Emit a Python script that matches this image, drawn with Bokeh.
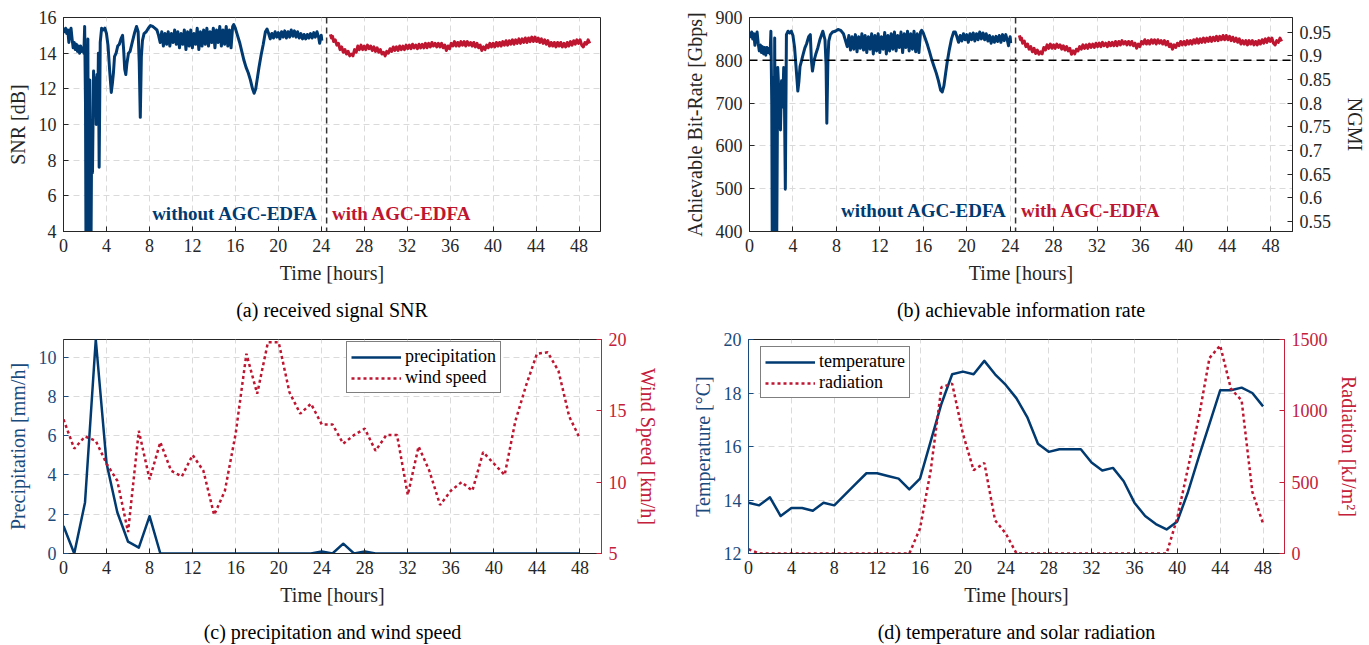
from bokeh.plotting import figure
from bokeh.models import (Range1d, LinearAxis, FixedTicker, Span, Label, Legend,
                          LegendItem)
from bokeh.layouts import column, row
from bokeh.embed import file_html
from bokeh.resources import INLINE

# ---------------- data ----------------
X_TICKS = [0, 4, 8, 12, 16, 20, 24, 28, 32, 36, 40, 44, 48]
SWITCH_HOUR = 24.5
THRESHOLD_RATE = 800

SNR_NOAGC = [
    (0.00, 15.40), (0.10, 15.20), (0.20, 15.40), (0.30, 15.10), (0.40, 15.30), (0.50, 14.60),
    (0.60, 15.20), (0.70, 15.40), (0.80, 14.80), (0.90, 14.30), (1.00, 14.60), (1.10, 14.20),
    (1.20, 14.50), (1.30, 14.10), (1.40, 14.40), (1.50, 14.00), (1.60, 14.40), (1.70, 14.10),
    (1.80, 14.30), (1.90, 14.00), (1.97, 15.50), (2.05, 11.00), (2.10, 2.00), (2.20, 2.00),
    (2.27, 14.80), (2.32, 2.00), (2.45, 12.50), (2.55, 2.00), (2.62, 9.00), (2.70, 7.30),
    (2.80, 13.00), (2.90, 10.50), (2.97, 12.60), (3.05, 10.00), (3.12, 12.80), (3.18, 10.30),
    (3.25, 14.00), (3.32, 7.60), (3.42, 14.60), (3.55, 15.40), (3.70, 15.30), (3.85, 15.40),
    (4.00, 15.10), (4.15, 14.40), (4.30, 13.00), (4.45, 11.80), (4.55, 12.30), (4.65, 12.90),
    (4.75, 13.80), (4.90, 14.00), (5.05, 14.40), (5.20, 14.50), (5.35, 14.80), (5.50, 15.00),
    (5.60, 14.20), (5.70, 13.10), (5.80, 12.80), (5.90, 13.40), (6.05, 14.00), (6.20, 14.10),
    (6.40, 14.60), (6.60, 15.10), (6.80, 15.50), (6.95, 15.20), (7.05, 13.50), (7.15, 10.40),
    (7.25, 13.80), (7.35, 14.70), (7.50, 15.10), (7.70, 15.20), (7.90, 15.40), (8.10, 15.55),
    (8.30, 15.50), (8.50, 15.40), (8.70, 15.30), (8.85, 15.00), (9.00, 14.60),
    (9.15, 15.20), (9.30, 14.40), (9.45, 15.10), (9.60, 14.50), (9.75, 15.20), (9.90, 14.40),
    (10.05, 15.10), (10.20, 14.60), (10.35, 15.30), (10.50, 14.50), (10.65, 15.20), (10.80, 14.30),
    (10.95, 15.10), (11.10, 14.50), (11.25, 15.30), (11.40, 14.20), (11.55, 15.20), (11.70, 14.40),
    (11.85, 15.30), (12.00, 14.30), (12.15, 15.10), (12.30, 14.50), (12.45, 15.40), (12.60, 14.20),
    (12.75, 15.20), (12.90, 14.40), (13.05, 15.30), (13.20, 14.50), (13.35, 15.40), (13.50, 14.40),
    (13.65, 15.20), (13.80, 14.60), (13.95, 15.40), (14.10, 14.30), (14.25, 15.30), (14.40, 14.60),
    (14.55, 15.50), (14.70, 14.40), (14.85, 15.30), (15.00, 14.50), (15.15, 15.50), (15.30, 14.40),
    (15.45, 15.30), (15.60, 14.30), (15.75, 15.50), (15.85, 15.60),
    (16.00, 15.40), (16.20, 15.00), (16.40, 14.60), (16.60, 14.10), (16.80, 13.60), (17.00, 13.20),
    (17.20, 12.90), (17.40, 12.50), (17.60, 12.00), (17.75, 11.75), (17.90, 12.00), (18.05, 12.60),
    (18.20, 13.20), (18.40, 13.90), (18.60, 14.50), (18.80, 15.20), (18.95, 15.35), (19.10, 15.10),
    (19.25, 14.80), (19.40, 15.10), (19.55, 14.85), (19.70, 15.20), (19.85, 14.90), (20.00, 15.15),
    (20.15, 14.80), (20.30, 15.20), (20.45, 14.90), (20.60, 15.25), (20.75, 14.85), (20.90, 15.20),
    (21.05, 14.90), (21.20, 15.30), (21.35, 14.95), (21.50, 15.25), (21.65, 14.90), (21.80, 15.20),
    (21.95, 14.85), (22.10, 15.10), (22.25, 14.80), (22.40, 15.05), (22.55, 14.80), (22.70, 15.05),
    (22.85, 14.85), (23.00, 15.10), (23.15, 14.85), (23.30, 15.15), (23.45, 14.90), (23.60, 15.20),
    (23.75, 14.90), (23.85, 14.55), (24.00, 15.00), (24.05, 14.70),
]

SNR_AGC = [
    (24.85, 15.05), (24.95, 14.85), (25.05, 14.95), (25.15, 14.65), (25.30, 14.75), (25.45, 14.45),
    (25.60, 14.55), (25.75, 14.20), (25.90, 14.35), (26.05, 14.05), (26.20, 14.20), (26.35, 13.95),
    (26.50, 14.10), (26.65, 13.85), (26.80, 13.95), (26.95, 13.85), (27.10, 14.20), (27.25, 14.05),
    (27.40, 14.40), (27.55, 14.20), (27.70, 14.45), (27.85, 14.20), (28.00, 14.40), (28.15, 14.20),
    (28.30, 14.45), (28.45, 14.25), (28.60, 14.40), (28.75, 14.15), (28.90, 14.35), (29.05, 14.10),
    (29.20, 14.30), (29.35, 14.05), (29.50, 14.20), (29.65, 13.95), (29.80, 14.05), (29.95, 13.85),
    (30.10, 14.10), (30.25, 14.00), (30.40, 14.25), (30.55, 14.10), (30.70, 14.35), (30.85, 14.15),
    (31.00, 14.35), (31.15, 14.15), (31.30, 14.40), (31.45, 14.20), (31.60, 14.40), (31.75, 14.20),
    (31.90, 14.45), (32.05, 14.25), (32.20, 14.45), (32.35, 14.25), (32.50, 14.50), (32.65, 14.30),
    (32.80, 14.45), (32.95, 14.25), (33.10, 14.50), (33.25, 14.30), (33.40, 14.50), (33.55, 14.30),
    (33.70, 14.55), (33.85, 14.30), (34.00, 14.55), (34.15, 14.35), (34.30, 14.60), (34.45, 14.40),
    (34.60, 14.55), (34.75, 14.35), (34.90, 14.55), (35.05, 14.35), (35.20, 14.55), (35.35, 14.30),
    (35.50, 14.45), (35.65, 14.15), (35.80, 14.40), (35.95, 14.25), (36.10, 14.55), (36.25, 14.40),
    (36.40, 14.65), (36.55, 14.40), (36.70, 14.60), (36.85, 14.40), (37.00, 14.65), (37.15, 14.45),
    (37.30, 14.65), (37.45, 14.40), (37.60, 14.65), (37.75, 14.45), (37.90, 14.60), (38.05, 14.40),
    (38.20, 14.60), (38.35, 14.35), (38.50, 14.55), (38.65, 14.30), (38.80, 14.45), (38.95, 14.15),
    (39.10, 14.35), (39.25, 14.20), (39.40, 14.45), (39.55, 14.30), (39.70, 14.55), (39.85, 14.35),
    (40.00, 14.55), (40.15, 14.35), (40.30, 14.60), (40.45, 14.40), (40.60, 14.60), (40.75, 14.40),
    (40.90, 14.65), (41.05, 14.45), (41.20, 14.70), (41.35, 14.45), (41.50, 14.70), (41.65, 14.50),
    (41.80, 14.75), (41.95, 14.50), (42.10, 14.75), (42.25, 14.55), (42.40, 14.80), (42.55, 14.55),
    (42.70, 14.80), (42.85, 14.60), (43.00, 14.85), (43.15, 14.60), (43.30, 14.85), (43.45, 14.65),
    (43.60, 14.90), (43.75, 14.65), (43.90, 14.90), (44.05, 14.65), (44.20, 14.85), (44.35, 14.60),
    (44.50, 14.80), (44.65, 14.55), (44.80, 14.75), (44.95, 14.50), (45.10, 14.70), (45.25, 14.40),
    (45.40, 14.60), (45.55, 14.40), (45.70, 14.60), (45.85, 14.35), (46.00, 14.60), (46.15, 14.40),
    (46.30, 14.60), (46.45, 14.35), (46.60, 14.55), (46.75, 14.35), (46.90, 14.60), (47.05, 14.40),
    (47.20, 14.65), (47.35, 14.45), (47.50, 14.70), (47.65, 14.50), (47.80, 14.75), (47.95, 14.55),
    (48.10, 14.75), (48.25, 14.45), (48.40, 14.35), (48.55, 14.60), (48.70, 14.50), (48.85, 14.75),
    (49.00, 14.55),
]

RATE_NOAGC = [
    (0.00, 865), (0.10, 855), (0.20, 866), (0.30, 850), (0.40, 862), (0.50, 835), (0.60, 858),
    (0.70, 866), (0.80, 840), (0.90, 822), (1.00, 836), (1.10, 818), (1.20, 832), (1.30, 815),
    (1.40, 830), (1.50, 812), (1.60, 830), (1.70, 818), (1.80, 828), (1.90, 815), (1.97, 868),
    (2.05, 700), (2.10, 350), (2.20, 350), (2.24, 760), (2.27, 350), (2.32, 852), (2.40, 350),
    (2.50, 350), (2.60, 783), (2.75, 700), (2.85, 637), (2.95, 752), (3.05, 691), (3.15, 783),
    (3.22, 700), (3.30, 499), (3.40, 860), (3.55, 868), (3.70, 864), (3.85, 868), (4.00, 858),
    (4.15, 830), (4.30, 780), (4.45, 728), (4.55, 750), (4.65, 785), (4.80, 800), (4.95, 815),
    (5.10, 829), (5.25, 838), (5.45, 855), (5.60, 860), (5.70, 800), (5.80, 775), (5.95, 800),
    (6.10, 814), (6.30, 830), (6.50, 850), (6.75, 868), (6.95, 848), (7.05, 790), (7.12, 653),
    (7.22, 800), (7.30, 845), (7.45, 860), (7.65, 866), (7.90, 868), (8.15, 872), (8.40, 870),
    (8.65, 862), (8.85, 845), (9.00, 832),
    (9.15, 858), (9.30, 824), (9.45, 855), (9.60, 826), (9.75, 860), (9.90, 820), (10.05, 855),
    (10.20, 828), (10.35, 862), (10.50, 824), (10.65, 858), (10.80, 818), (10.95, 855), (11.10, 826),
    (11.25, 862), (11.40, 815), (11.55, 858), (11.70, 822), (11.85, 862), (12.00, 818), (12.15, 855),
    (12.30, 826), (12.45, 865), (12.60, 815), (12.75, 858), (12.90, 822), (13.05, 862), (13.20, 826),
    (13.35, 866), (13.50, 822), (13.65, 858), (13.80, 830), (13.95, 866), (14.10, 818), (14.25, 862),
    (14.40, 830), (14.55, 868), (14.70, 822), (14.85, 862), (15.00, 826), (15.15, 868), (15.30, 820),
    (15.45, 862), (15.60, 818), (15.75, 866), (15.85, 870),
    (16.00, 864), (16.20, 850), (16.40, 835), (16.60, 818), (16.80, 800), (17.00, 785), (17.20, 770),
    (17.40, 752), (17.60, 730), (17.75, 726), (17.90, 740), (18.05, 768), (18.20, 795), (18.40, 825),
    (18.60, 850), (18.80, 866), (18.95, 866), (19.10, 855),
    (19.25, 842), (19.40, 858), (19.55, 845), (19.70, 862), (19.85, 848), (20.00, 860), (20.15, 842),
    (20.30, 862), (20.45, 848), (20.60, 864), (20.75, 845), (20.90, 862), (21.05, 848), (21.20, 866),
    (21.35, 850), (21.50, 864), (21.65, 848), (21.80, 862), (21.95, 845), (22.10, 858), (22.25, 840),
    (22.40, 855), (22.55, 842), (22.70, 856), (22.85, 844), (23.00, 858), (23.15, 842), (23.30, 860),
    (23.45, 846), (23.60, 860), (23.75, 846), (23.85, 834), (24.00, 855), (24.05, 840),
]

RATE_AGC = [
    (24.85, 858), (24.95, 848), (25.05, 852), (25.15, 840), (25.30, 845), (25.45, 832), (25.60, 838),
    (25.75, 826), (25.90, 832), (26.05, 820), (26.20, 828), (26.35, 816), (26.50, 824), (26.65, 814),
    (26.80, 820), (26.95, 815), (27.10, 830), (27.25, 824), (27.40, 836), (27.55, 828), (27.70, 838),
    (27.85, 828), (28.00, 836), (28.15, 828), (28.30, 838), (28.45, 830), (28.60, 836), (28.75, 826),
    (28.90, 834), (29.05, 824), (29.20, 832), (29.35, 822), (29.50, 828), (29.65, 814), (29.80, 822),
    (29.95, 815), (30.10, 826), (30.25, 822), (30.40, 832), (30.55, 826), (30.70, 836), (30.85, 828),
    (31.00, 836), (31.15, 828), (31.30, 838), (31.45, 830), (31.60, 838), (31.75, 830), (31.90, 840),
    (32.05, 832), (32.20, 840), (32.35, 832), (32.50, 842), (32.65, 834), (32.80, 840), (32.95, 832),
    (33.10, 842), (33.25, 834), (33.40, 842), (33.55, 834), (33.70, 844), (33.85, 834), (34.00, 844),
    (34.15, 836), (34.30, 846), (34.45, 838), (34.60, 844), (34.75, 836), (34.90, 844), (35.05, 836),
    (35.20, 844), (35.35, 834), (35.50, 840), (35.65, 828), (35.80, 838), (35.95, 832), (36.10, 844),
    (36.25, 838), (36.40, 848), (36.55, 838), (36.70, 846), (36.85, 838), (37.00, 848), (37.15, 840),
    (37.30, 848), (37.45, 838), (37.60, 848), (37.75, 840), (37.90, 846), (38.05, 838), (38.20, 846),
    (38.35, 836), (38.50, 844), (38.65, 832), (38.80, 838), (38.95, 826), (39.10, 836), (39.25, 830),
    (39.40, 840), (39.55, 834), (39.70, 844), (39.85, 836), (40.00, 844), (40.15, 836), (40.30, 846),
    (40.45, 838), (40.60, 846), (40.75, 838), (40.90, 848), (41.05, 840), (41.20, 850), (41.35, 840),
    (41.50, 850), (41.65, 842), (41.80, 852), (41.95, 842), (42.10, 852), (42.25, 844), (42.40, 854),
    (42.55, 844), (42.70, 854), (42.85, 846), (43.00, 856), (43.15, 846), (43.30, 856), (43.45, 848),
    (43.60, 858), (43.75, 848), (43.90, 858), (44.05, 848), (44.20, 856), (44.35, 846), (44.50, 854),
    (44.65, 844), (44.80, 852), (44.95, 842), (45.10, 850), (45.25, 838), (45.40, 846), (45.55, 838),
    (45.70, 846), (45.85, 836), (46.00, 846), (46.15, 838), (46.30, 846), (46.45, 836), (46.60, 844),
    (46.75, 836), (46.90, 846), (47.05, 838), (47.20, 848), (47.35, 840), (47.50, 850), (47.65, 842),
    (47.80, 852), (47.95, 844), (48.10, 852), (48.25, 840), (48.40, 836), (48.55, 846), (48.70, 842),
    (48.85, 852), (49.00, 844),
]

HOURS = [0, 1, 2, 3, 4, 5, 6, 7, 8, 9, 10, 11, 12, 13, 14, 15, 16, 17, 18, 19, 20, 21, 22, 23, 24,
         25, 26, 27, 28, 29, 30, 31, 32, 33, 34, 35, 36, 37, 38, 39, 40, 41, 42, 43, 44, 45, 46, 47, 48]
PRECIP = [1.4, 0.0, 2.6, 10.9, 4.6, 2.1, 0.6, 0.3, 1.9, 0.0, 0.0, 0.0, 0.0, 0.0, 0.0, 0.0, 0.0,
          0.0, 0.0, 0.0, 0.0, 0.0, 0.0, 0.0, 0.1, 0.0, 0.5, 0.0, 0.1, 0.0, 0.0, 0.0, 0.0, 0.0,
          0.0, 0.0, 0.0, 0.0, 0.0, 0.0, 0.0, 0.0, 0.0, 0.0, 0.0, 0.0, 0.0, 0.0, 0.0]
WIND = [14.4, 12.35, 13.2, 12.9, 11.3, 10.1, 6.5, 13.6, 10.2, 12.8, 10.8, 10.4, 11.9, 10.8, 7.7,
        9.4, 13.4, 19.0, 16.2, 19.8, 19.8, 16.3, 14.8, 15.5, 14.05, 14.05, 12.7, 13.3, 13.75, 12.2,
        13.3, 13.3, 9.1, 12.5, 10.8, 8.4, 9.4, 10.0, 9.4, 12.1, 11.3, 10.5, 14.3, 16.8, 19.0, 19.1,
        17.8, 14.6, 13.05]
TEMP = [13.9, 13.8, 14.1, 13.4, 13.7, 13.7, 13.6, 13.9, 13.8, 14.2, 14.6, 15.0, 15.0, 14.9, 14.8,
        14.4, 14.8, 16.2, 17.6, 18.7, 18.8, 18.7, 19.2, 18.7, 18.3, 17.8, 17.1, 16.1, 15.8, 15.9,
        15.9, 15.9, 15.4, 15.1, 15.2, 14.7, 13.9, 13.4, 13.1, 12.9, 13.2, 14.3, 15.6, 16.85, 18.1,
        18.1, 18.2, 18.0, 17.5]
RADIATION = [30, 0, 0, 0, 0, 0, 0, 0, 0, 0, 0, 0, 0, 0, 0, 0, 175, 583, 1166, 1190, 840, 583, 635,
             233, 140, 0, 0, 0, 0, 0, 0, 0, 0, 0, 0, 0, 0, 0, 0, 0, 250, 600, 950, 1370, 1458, 1155,
             1073, 432, 210]

NGMI_RANGE = (0.5285, 0.9813)
NGMI_TICKS = [0.55, 0.6, 0.65, 0.7, 0.75, 0.8, 0.85, 0.9, 0.95]

# ---------------- styling ----------------
FONT = "Liberation Serif"
BLUE = "#003a70"
RED = "#be1530"
AX = "#262626"
GRID = "#dadada"
LBL_BLUE = "#1b4a7d"
LBL_RED = "#c4203a"


def unzip(pairs):
    return [a for a, _ in pairs], [b for _, b in pairs]


def style_axis(ax, color=AX, label_color=None, ticker=None):
    ax.major_tick_in = 5
    ax.major_tick_out = 0
    ax.minor_tick_line_color = None
    ax.major_tick_line_color = color
    ax.axis_line_color = color
    ax.major_label_text_font = FONT
    ax.major_label_text_font_size = "18px"
    ax.major_label_text_color = label_color or color
    ax.axis_label_text_font = FONT
    ax.axis_label_text_font_size = "20px"
    ax.axis_label_text_font_style = "normal"
    ax.axis_label_text_color = label_color or color
    ax.major_label_standoff = 7
    ax.axis_label_standoff = 7
    if ticker is not None:
        ax.ticker = ticker


def base_fig(w, h, y0, y1, bl, br, bt, bb, y_ticks, caption, ylabel, cap_standoff,
             ycolor=AX, ylabelcolor=None):
    p = figure(width=w, height=h, x_range=Range1d(0, 50), y_range=Range1d(y0, y1),
               output_backend="svg", toolbar_location=None, title=None,
               min_border_left=bl, min_border_right=br, min_border_top=bt, min_border_bottom=bb)
    p.outline_line_color = AX
    p.outline_line_width = 1
    p.background_fill_color = "white"
    p.border_fill_color = "white"
    xt = FixedTicker(ticks=X_TICKS)
    yt = FixedTicker(ticks=y_ticks)
    style_axis(p.xaxis[0], ticker=xt)
    p.xaxis[0].axis_label = "Time [hours]"
    style_axis(p.yaxis[0], color=ycolor, label_color=ylabelcolor, ticker=yt)
    p.yaxis[0].axis_label = ylabel
    p.xgrid[0].ticker = xt
    p.ygrid[0].ticker = yt
    for g in (p.xgrid[0], p.ygrid[0]):
        g.grid_line_color = GRID
        g.grid_line_dash = "6 4"
        g.grid_line_width = 1
    # sub-figure caption: an axis without ticks that only carries a label
    cap = LinearAxis(ticker=FixedTicker(ticks=[]), axis_label=caption,
                     axis_line_color=None, major_tick_line_color=None,
                     minor_tick_line_color=None, major_label_standoff=0,
                     major_tick_in=0, major_tick_out=0,
                     axis_label_standoff=cap_standoff, axis_label_text_font=FONT,
                     axis_label_text_font_size="20px", axis_label_text_font_style="normal",
                     axis_label_text_color="black")
    p.add_layout(cap, "below")
    return p


# ---------------- (a) SNR ----------------
pa = base_fig(680, 323, 4, 16, 63, 80, 17, 91, [4, 6, 8, 10, 12, 14, 16],
              "(a) received signal SNR", "SNR [dB]", 12)
t, v = unzip(SNR_NOAGC)
pa.line(t, v, line_color=BLUE, line_width=3, line_join="round")
t, v = unzip(SNR_AGC)
pa.line(t, v, line_color=RED, line_width=3, line_join="round")
pa.add_layout(Span(location=SWITCH_HOUR, dimension="height", line_color="#333333",
                   line_dash="6 4", line_width=1.5))
pa.add_layout(Label(x=23.7, y=5.0, text="without AGC-EDFA", text_align="right",
                    text_baseline="middle", text_font=FONT, text_font_size="19px",
                    text_font_style="bold", text_color=BLUE))
pa.add_layout(Label(x=25.0, y=5.0, text="with AGC-EDFA", text_align="left",
                    text_baseline="middle", text_font=FONT, text_font_size="19px",
                    text_font_style="bold", text_color=RED))

# ---------------- (b) bit rate ----------------
pb = base_fig(689, 323, 400, 900, 68, 77, 16, 90, [400, 500, 600, 700, 800, 900],
              "(b) achievable information rate", "Achievable Bit-Rate [Gbps]", 12)
pb.extra_y_ranges = {"ngmi": Range1d(*NGMI_RANGE)}
ngmi_ax = LinearAxis(y_range_name="ngmi", axis_label="NGMI")
style_axis(ngmi_ax, ticker=FixedTicker(ticks=NGMI_TICKS))
ngmi_ax.axis_label_standoff = 10
ngmi_ax.major_label_overrides = {0.55: "0.55", 0.6: "0.6", 0.65: "0.65", 0.7: "0.7", 0.75: "0.75",
                                 0.8: "0.8", 0.85: "0.85", 0.9: "0.9", 0.95: "0.95"}
pb.add_layout(ngmi_ax, "right")
t, v = unzip(RATE_NOAGC)
pb.line(t, v, line_color=BLUE, line_width=3, line_join="round")
t, v = unzip(RATE_AGC)
pb.line(t, v, line_color=RED, line_width=3, line_join="round")
pb.add_layout(Span(location=THRESHOLD_RATE, dimension="width", line_color="black",
                   line_dash="8 5", line_width=1.5))
pb.add_layout(Span(location=SWITCH_HOUR, dimension="height", line_color="#333333",
                   line_dash="6 4", line_width=1.5))
pb.add_layout(Label(x=23.7, y=450, text="without AGC-EDFA", text_align="right",
                    text_baseline="middle", text_font=FONT, text_font_size="19px",
                    text_font_style="bold", text_color=BLUE))
pb.add_layout(Label(x=25.0, y=450, text="with AGC-EDFA", text_align="left",
                    text_baseline="middle", text_font=FONT, text_font_size="19px",
                    text_font_style="bold", text_color=RED))

# ---------------- (c) precipitation / wind ----------------
pc = base_fig(680, 322, 0, 10.9, 63, 79, 16, 92, [0, 2, 4, 6, 8, 10],
              "(c) precipitation and wind speed", "Precipitation [mm/h]", 12,
              ycolor=LBL_BLUE, ylabelcolor=LBL_BLUE)
pc.extra_y_ranges = {"wind": Range1d(5, 20)}
wind_ax = LinearAxis(y_range_name="wind", axis_label="Wind Speed [km/h]")
style_axis(wind_ax, color=LBL_RED, ticker=FixedTicker(ticks=[5, 10, 15, 20]))
pc.add_layout(wind_ax, "right")
r1 = pc.line(HOURS, PRECIP, line_color=BLUE, line_width=2.5, line_join="round")
r2 = pc.line(HOURS, WIND, line_color=RED, line_width=2.5, line_dash="3 3", y_range_name="wind")
leg_c = Legend(items=[LegendItem(label="precipitation", renderers=[r1]),
                      LegendItem(label="wind speed", renderers=[r2])],
               location=(283, 160))
pc.add_layout(leg_c)

# ---------------- (d) temperature / radiation ----------------
pd_ = base_fig(689, 322, 12, 20, 68, 85, 16, 92, [12, 14, 16, 18, 20],
               "(d) temperature and solar radiation", "Temperature [°C]", 12,
               ycolor=LBL_BLUE, ylabelcolor=LBL_BLUE)
pd_.extra_y_ranges = {"rad": Range1d(0, 1500)}
rad_ax = LinearAxis(y_range_name="rad", axis_label="Radiation [kJ/m²]")
style_axis(rad_ax, color=LBL_RED, ticker=FixedTicker(ticks=[0, 500, 1000, 1500]))
pd_.add_layout(rad_ax, "right")
r3 = pd_.line(HOURS, TEMP, line_color=BLUE, line_width=2.5, line_join="round")
r4 = pd_.line(HOURS, RADIATION, line_color=RED, line_width=2.5, line_dash="3 3", y_range_name="rad")
leg_d = Legend(items=[LegendItem(label="temperature", renderers=[r3]),
                      LegendItem(label="radiation", renderers=[r4])],
               location=(12, 155))
pd_.add_layout(leg_d)

for leg in (leg_c, leg_d):
    leg.label_text_font = FONT
    leg.label_text_font_size = "18px"
    leg.label_text_color = "black"
    leg.glyph_width = 50
    leg.glyph_height = 20
    leg.label_height = 20
    leg.label_standoff = 4
    leg.padding = 4
    leg.spacing = 0
    leg.margin = 0
    leg.border_line_color = "black"
    leg.border_line_width = 1
    leg.background_fill_alpha = 1.0

layout = column(row(pa, pb), row(pc, pd_))
open("out.html", "w").write(file_html(layout, INLINE))
